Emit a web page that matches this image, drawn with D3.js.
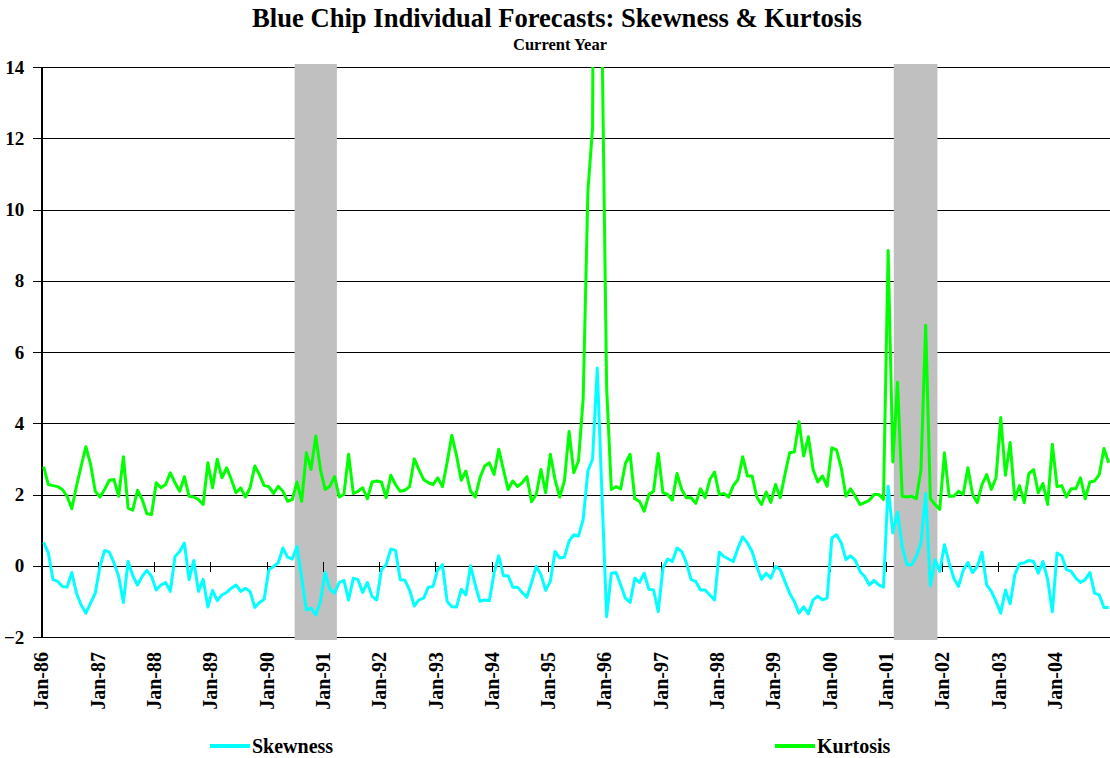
<!DOCTYPE html>
<meta charset="utf-8">
<style>
  body { margin: 0; background: #fff; }
  text { font-family: "Liberation Serif", "Times New Roman", serif; font-weight: bold; fill: #000; }
  .grid line { stroke: #000; stroke-width: 1; shape-rendering: crispEdges; }
  .axis path, .axis line { stroke: #000; shape-rendering: crispEdges; }
  .series { fill: none; stroke-width: 3; stroke-linejoin: round; }
</style>
<body>
<script src="https://d3js.org/d3.v7.min.js"></script>
<script>

// monthly observations, Jan-86 .. Dec-04
var skewness = [
  0.66, 0.36, -0.39, -0.44, -0.58, -0.60, -0.19, -0.77, -1.10, -1.33, -1.05, -0.77,
  -0.02, 0.43, 0.38, 0.08, -0.30, -1.03, 0.12, -0.28, -0.54, -0.30, -0.13, -0.30,
  -0.68, -0.54, -0.47, -0.72, 0.26, 0.40, 0.64, -0.39, 0.15, -0.72, -0.38, -1.16,
  -0.69, -0.98, -0.82, -0.75, -0.63, -0.54, -0.72, -0.63, -0.72, -1.17, -1.03, -0.94,
  -0.11, -0.02, 0.08, 0.50, 0.24, 0.19, 0.54, -0.35, -1.24, -1.19, -1.38, -1.00,
  -0.19, -0.66, -0.77, -0.47, -0.41, -0.96, -0.35, -0.39, -0.75, -0.47, -0.86, -0.96,
  -0.11, 0.03, 0.47, 0.43, -0.39, -0.41, -0.68, -1.13, -0.96, -0.91, -0.60, -0.58,
  -0.11, 0.03, -1.00, -1.15, -1.16, -0.66, -0.82, 0.00, -0.54, -1.00, -0.96, -0.98,
  -0.21, 0.28, -0.28, -0.28, -0.60, -0.60, -0.75, -0.88, -0.47, -0.02, -0.25, -0.69,
  -0.44, 0.40, 0.22, 0.24, 0.69, 0.87, 0.83, 1.30, 2.66, 2.99, 5.55, 2.00,
  -1.43, -0.21, -0.19, -0.54, -0.91, -1.03, -0.35, -0.47, -0.21, -0.66, -0.68, -1.29,
  -0.07, 0.19, 0.12, 0.50, 0.40, 0.08, -0.39, -0.44, -0.68, -0.68, -0.82, -0.96,
  0.38, 0.26, 0.19, 0.12, 0.50, 0.81, 0.64, 0.40, -0.02, -0.38, -0.21, -0.35,
  -0.02, -0.11, -0.44, -0.77, -1.00, -1.33, -1.15, -1.35, -0.96, -0.85, -0.96, -0.91,
  0.78, 0.87, 0.64, 0.17, 0.28, 0.15, -0.16, -0.30, -0.54, -0.41, -0.54, -0.60,
  2.23, 0.92, 1.50, 0.54, 0.03, 0.03, 0.26, 0.64, 2.03, -0.56, 0.17, -0.16,
  0.59, 0.08, -0.35, -0.58, -0.13, 0.09, -0.19, -0.02, 0.38, -0.54, -0.72, -1.00,
  -1.33, -0.68, -1.07, -0.25, 0.06, 0.08, 0.15, 0.12, -0.21, 0.12, -0.39, -1.29,
  0.36, 0.28, -0.11, -0.16, -0.35, -0.47, -0.39, -0.19, -0.77, -0.82, -1.17, -1.17
];

var kurtosis = [
  2.78, 2.28, 2.25, 2.22, 2.14, 1.95, 1.60, 2.23, 2.80, 3.34, 2.85, 2.09,
  1.93, 2.14, 2.40, 2.42, 1.95, 3.06, 1.62, 1.56, 2.12, 1.86, 1.46, 1.44,
  2.33, 2.19, 2.28, 2.61, 2.33, 2.09, 2.50, 1.95, 1.93, 1.86, 1.72, 2.89,
  2.19, 2.99, 2.47, 2.75, 2.42, 2.05, 2.19, 1.93, 2.19, 2.80, 2.56, 2.25,
  2.22, 2.03, 2.23, 2.09, 1.81, 1.86, 2.35, 1.81, 3.17, 2.70, 3.64, 2.70,
  2.14, 2.23, 2.50, 1.93, 2.00, 3.13, 2.03, 2.09, 2.19, 1.88, 2.35, 2.38,
  2.35, 1.91, 2.54, 2.28, 2.09, 2.12, 2.22, 3.00, 2.70, 2.42, 2.33, 2.28,
  2.47, 2.22, 2.90, 3.66, 3.10, 2.40, 2.66, 2.09, 1.93, 2.47, 2.80, 2.89,
  2.56, 3.27, 2.70, 2.14, 2.38, 2.22, 2.33, 2.50, 1.80, 2.00, 2.70, 2.05,
  3.13, 2.42, 1.93, 2.38, 3.77, 2.61, 2.94, 4.70, 10.5, 12.3, 40.0, 15.0,
  5.00, 2.14, 2.22, 2.16, 2.87, 3.13, 1.88, 1.81, 1.53, 2.00, 2.09, 3.15,
  2.05, 2.00, 1.84, 2.59, 2.14, 1.91, 1.91, 1.75, 2.16, 1.91, 2.42, 2.63,
  2.00, 2.03, 1.93, 2.25, 2.42, 3.06, 2.52, 2.52, 1.93, 1.72, 2.07, 1.78,
  2.28, 1.91, 2.56, 3.17, 3.19, 4.04, 3.08, 3.62, 2.70, 2.35, 2.52, 2.23,
  3.31, 3.25, 2.75, 1.95, 2.16, 1.95, 1.72, 1.77, 1.84, 2.00, 2.00, 1.86,
  8.85, 2.91, 5.15, 1.95, 1.93, 1.95, 1.88, 2.70, 6.75, 1.88, 1.72, 1.58,
  3.17, 1.95, 1.95, 2.09, 2.00, 2.75, 2.00, 1.77, 2.28, 2.56, 2.14, 2.47,
  4.16, 2.54, 3.46, 1.86, 2.25, 1.77, 2.59, 2.70, 2.05, 2.31, 1.72, 3.41,
  2.22, 2.25, 1.93, 2.16, 2.16, 2.47, 1.88, 2.35, 2.38, 2.56, 3.29, 2.89
];

var tickLabels = ["Jan-86", "Jan-87", "Jan-88", "Jan-89", "Jan-90", "Jan-91", "Jan-92",
  "Jan-93", "Jan-94", "Jan-95", "Jan-96", "Jan-97", "Jan-98", "Jan-99", "Jan-00",
  "Jan-01", "Jan-02", "Jan-03", "Jan-04"];

var yTicks = [-2, 0, 2, 4, 6, 8, 10, 12, 14];

// recessions as [first month, month after last], counted from Jan-86
var recessions = [[54, 63], [181.7, 191]];

var seriesNames = ["Skewness", "Kurtosis"];
var seriesColors = ["#00ffff", "#00ff00"];

var width = 1110, height = 758;
var plot = {left: 41.3, right: 1111, top: 67, bottom: 637};

var svg = d3.select("body").append("svg")
    .attr("width", width)
    .attr("height", height);

var x = d3.scaleLinear().domain([0, skewness.length]).range([plot.left, plot.right]);
var y = d3.scaleLinear().domain([-2, 14]).range([plot.bottom, plot.top]);

// titles
svg.append("text")
    .attr("x", 557).attr("y", 27)
    .attr("text-anchor", "middle")
    .style("font-size", "26.6px")
    .text("Blue Chip Individual Forecasts: Skewness & Kurtosis");

svg.append("text")
    .attr("x", 560).attr("y", 50)
    .attr("text-anchor", "middle")
    .style("font-size", "16.5px")
    .text("Current Year");

// horizontal grid
svg.append("g").attr("class", "grid")
  .selectAll("line")
  .data(yTicks)
  .enter().append("line")
    .attr("x1", plot.left).attr("x2", plot.right)
    .attr("y1", function(d) { return Math.round(y(d)) + 0.5; })
    .attr("y2", function(d) { return Math.round(y(d)) + 0.5; });

// recession shading
svg.append("g")
  .selectAll("rect")
  .data(recessions)
  .enter().append("rect")
    .attr("x", function(d) { return x(d[0]); })
    .attr("width", function(d) { return x(d[1]) - x(d[0]); })
    .attr("y", plot.top - 3)
    .attr("height", plot.bottom - plot.top + 6)
    .attr("fill", "#c0c0c0");

// y axis
var yAxis = svg.append("g").attr("class", "axis")
    .attr("transform", "translate(" + plot.left + ",0)")
    .call(d3.axisLeft(y).tickValues(yTicks).tickSize(8).tickSizeOuter(0).tickPadding(9));
yAxis.select(".domain").attr("stroke-width", 1.5);
yAxis.selectAll("text").style("font-size", "19px").attr("font-family", null);

// x ticks on the zero line
var yearTicks = tickLabels.map(function(d, i) { return i * 12; });
var xTicks = svg.append("g").attr("class", "axis")
    .attr("transform", "translate(0," + (Math.round(y(0)) + 0.5) + ")")
    .call(d3.axisBottom(x).tickValues(yearTicks).tickSize(5).tickSizeOuter(0).tickFormat(""));
xTicks.select(".domain").remove();
xTicks.selectAll(".tick line").attr("y1", -5);

// x labels along the bottom
var xLabels = svg.append("g").attr("class", "axis")
    .attr("transform", "translate(0," + plot.bottom + ")")
    .call(d3.axisBottom(x).tickValues(yearTicks).tickSize(0)
      .tickFormat(function(d, i) { return tickLabels[i]; }));
xLabels.select(".domain").remove();
xLabels.selectAll("text")
    .attr("font-family", null)
    .style("font-size", "20px")
    .attr("x", 0).attr("y", 0).attr("dy", "0.33em")
    .attr("text-anchor", "end")
    .attr("transform", "translate(0,15) rotate(-90)");

// series
svg.append("clipPath").attr("id", "plotClip")
  .append("rect")
    .attr("x", plot.left).attr("y", plot.top)
    .attr("width", plot.right - plot.left)
    .attr("height", plot.bottom - plot.top);

var line = d3.line()
    .x(function(d, i) { return x(i + 0.5); })
    .y(function(d) { return y(d); });

svg.append("g").attr("clip-path", "url(#plotClip)")
  .selectAll("path")
  .data([skewness, kurtosis])
  .enter().append("path")
    .attr("class", "series")
    .attr("stroke", function(d, i) { return seriesColors[i]; })
    .attr("d", line);

// legend
var legendX = [210, 775];
var legend = svg.append("g").selectAll("g")
  .data(seriesNames)
  .enter().append("g")
    .attr("transform", function(d, i) { return "translate(" + legendX[i] + ",746)"; });

legend.append("line")
    .attr("x1", 0).attr("x2", 40)
    .attr("stroke", function(d, i) { return seriesColors[i]; })
    .attr("stroke-width", 4);

legend.append("text")
    .attr("x", 42).attr("dy", "0.35em")
    .style("font-size", "20px")
    .text(function(d) { return d; });

</script>
</body>
</html>
